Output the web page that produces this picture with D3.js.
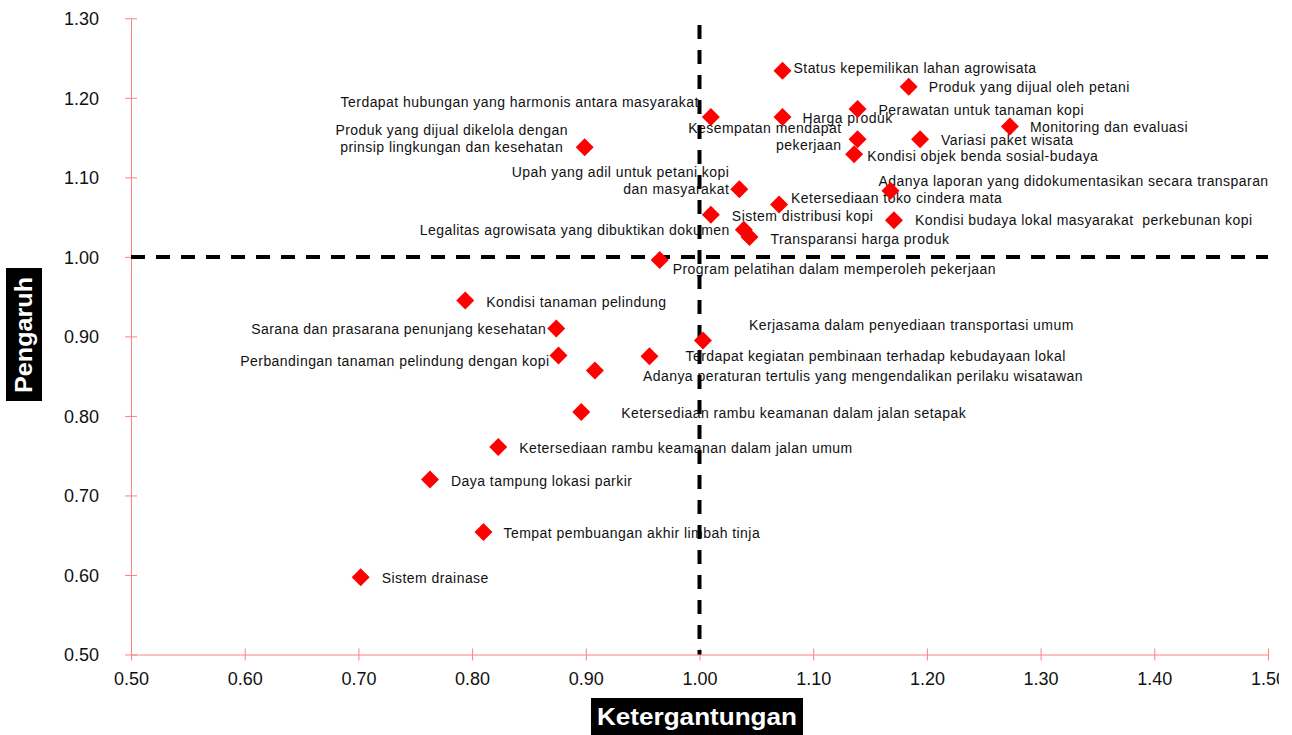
<!DOCTYPE html>
<html>
<head>
<meta charset="utf-8">
<script src="https://cdn.jsdelivr.net/npm/d3@7"></script>
<style>
  body { margin: 0; background: #fff; }
  svg { display: block; }
  text { font-family: "Liberation Sans", Arial, sans-serif; }
</style>
</head>
<body>
<div id="chart"></div>
<script>
// ketergantungan (x) dan pengaruh (y) untuk tiap faktor
const names = [
  "Status kepemilikan lahan agrowisata",
  "Produk yang dijual oleh petani",
  "Terdapat hubungan yang harmonis antara masyarakat",
  "Harga produk",
  "Perawatan untuk tanaman kopi",
  "Monitoring dan evaluasi",
  "Variasi paket wisata",
  "Kesempatan mendapat\npekerjaan",
  "Kondisi objek benda sosial-budaya",
  "Produk yang dijual dikelola dengan\nprinsip lingkungan dan kesehatan",
  "Upah yang adil untuk petani kopi\ndan masyarakat",
  "Adanya laporan yang didokumentasikan secara transparan",
  "Ketersediaan toko cindera mata",
  "Sistem distribusi kopi",
  "Kondisi budaya lokal masyarakat  perkebunan kopi",
  "Legalitas agrowisata yang dibuktikan dokumen",
  "Transparansi harga produk",
  "Program pelatihan dalam memperoleh pekerjaan",
  "Kondisi tanaman pelindung",
  "Sarana dan prasarana penunjang kesehatan",
  "Kerjasama dalam penyediaan transportasi umum",
  "Perbandingan tanaman pelindung dengan kopi",
  "Terdapat kegiatan pembinaan terhadap kebudayaan lokal",
  "Adanya peraturan tertulis yang mengendalikan perilaku wisatawan",
  "Ketersediaan rambu keamanan dalam jalan setapak",
  "Ketersediaan rambu keamanan dalam jalan umum",
  "Daya tampung lokasi parkir",
  "Tempat pembuangan akhir limbah tinja",
  "Sistem drainase"
];
const ketergantungan = [
  1.073, 1.184, 1.010, 1.073, 1.139, 1.273, 1.194, 1.139, 1.136, 0.899,
  1.035, 1.168, 1.070, 1.010, 1.171, 1.039, 1.044, 0.965, 0.794, 0.874,
  1.003, 0.876, 0.956, 0.908, 0.896, 0.823, 0.763, 0.810, 0.702
];
const pengaruh = [
  1.234, 1.214, 1.176, 1.176, 1.186, 1.164, 1.148, 1.148, 1.129, 1.138,
  1.085, 1.083, 1.066, 1.053, 1.046, 1.034, 1.025, 0.996, 0.945, 0.910,
  0.895, 0.876, 0.875, 0.857, 0.805, 0.761, 0.720, 0.654, 0.597
];
const xTicks = [0.5, 0.6, 0.7, 0.8, 0.9, 1.0, 1.1, 1.2, 1.3, 1.4, 1.5];
const yTicks = [0.5, 0.6, 0.7, 0.8, 0.9, 1.0, 1.1, 1.2, 1.3];
const cutX = 1.0, cutY = 1.0;

// where each label sits next to its marker: [dx, dy, anchor]
const labelPos = [
  [11, -3, "start"], [20, 0, "start"], [-12, -15, "end"], [20, 1, "start"],
  [21, 1, "start"], [20, 1, "start"], [21, 1, "start"], [-16, -3, "end"],
  [13, 2, "start"], [-133, -9, "middle"], [-10, -9, "end"], [-12, -10, "start"],
  [12, -6, "start"], [21, 1, "start"], [21, 0, "start"], [-14, 0, "end"],
  [21, 2, "start"], [13, 9, "start"], [21, 1, "start"], [-10, 1, "end"],
  [46, -15, "start"], [-9, 6, "end"], [36, 0, "start"], [48, 5, "start"],
  [40, 1, "start"], [21, 1, "start"], [21, 1, "start"], [20, 1, "start"],
  [21, 1, "start"]
];

const W = 1279, H = 735;
const axisColor = "#ff8080";

const svg = d3.select("#chart").append("svg")
  .attr("width", W)
  .attr("height", H);

const x = d3.scaleLinear().domain([0.5, 1.5]).range([131, 1268]);
const y = d3.scaleLinear().domain([0.5, 1.3]).range([654.5, 18.3]);

// y axis
const gy = svg.append("g")
  .attr("transform", `translate(${x(0.5)},0)`)
  .call(d3.axisLeft(y).tickValues(yTicks).tickFormat(d3.format(".2f")).tickSizeOuter(0));
gy.select(".domain").attr("stroke", axisColor);
gy.selectAll(".tick line").attr("x1", -6).attr("x2", 6).attr("stroke", axisColor);
gy.selectAll(".tick text")
  .attr("x", -32).attr("dy", "0.35em")
  .attr("font-size", 18).attr("font-family", "Liberation Sans, Arial, sans-serif")
  .attr("fill", "#111");

// x axis
const gx = svg.append("g")
  .attr("transform", `translate(0,${y(0.5)})`)
  .call(d3.axisBottom(x).tickValues(xTicks).tickFormat(d3.format(".2f")).tickSizeOuter(0));
gx.select(".domain").attr("stroke", axisColor);
gx.selectAll(".tick line").attr("y1", -6).attr("y2", 6).attr("stroke", axisColor);
gx.selectAll(".tick text")
  .attr("y", 30).attr("dy", 0)
  .attr("font-size", 18).attr("font-family", "Liberation Sans, Arial, sans-serif")
  .attr("fill", "#111");

// point labels
const labels = svg.append("g");
names.forEach((n, i) => {
  const [dx, dy, anchor] = labelPos[i];
  const lines = n.split("\n");
  const cx = x(ketergantungan[i]) + dx;
  const cy = y(pengaruh[i]) + dy;
  const t = labels.append("text")
    .attr("text-anchor", anchor)
    .attr("font-size", 14)
    .attr("letter-spacing", "0.45px")
    .attr("fill", "#111")
    .style("white-space", "pre");
  lines.forEach((l, j) => {
    t.append("tspan")
      .attr("x", cx)
      .attr("y", cy + (j - (lines.length - 1) / 2) * 17 + 5)
      .text(l);
  });
});

// quadrant cut lines
svg.append("line")
  .attr("x1", x(0.5)).attr("x2", x(1.5))
  .attr("y1", y(cutY)).attr("y2", y(cutY))
  .attr("stroke", "#000").attr("stroke-width", 4)
  .attr("stroke-dasharray", "14,11");
svg.append("line")
  .attr("x1", x(cutX)).attr("x2", x(cutX))
  .attr("y1", 25).attr("y2", y(0.5))
  .attr("stroke", "#000").attr("stroke-width", 4)
  .attr("stroke-dasharray", "14,11");

// markers
const diamond = d3.symbol().type(d3.symbolSquare).size(162);
svg.append("g").selectAll("path")
  .data(d3.range(names.length))
  .join("path")
  .attr("d", diamond)
  .attr("transform", i => `translate(${x(ketergantungan[i])},${y(pengaruh[i])}) rotate(45)`)
  .attr("fill", "#ff0000");

// axis titles
svg.append("rect")
  .attr("x", 591).attr("y", 698).attr("width", 212).attr("height", 37)
  .attr("fill", "#000");
svg.append("text")
  .attr("x", 697).attr("y", 725)
  .attr("text-anchor", "middle")
  .attr("font-size", 24).attr("font-weight", "bold")
  .attr("fill", "#fff")
  .attr("textLength", 200).attr("lengthAdjust", "spacingAndGlyphs")
  .text("Ketergantungan");

svg.append("rect")
  .attr("x", 6).attr("y", 268).attr("width", 36).attr("height", 133)
  .attr("fill", "#000");
svg.append("text")
  .attr("transform", "translate(32,335) rotate(-90)")
  .attr("text-anchor", "middle")
  .attr("font-size", 24).attr("font-weight", "bold")
  .attr("fill", "#fff")
  .attr("textLength", 116).attr("lengthAdjust", "spacingAndGlyphs")
  .text("Pengaruh");
</script>
</body>
</html>
